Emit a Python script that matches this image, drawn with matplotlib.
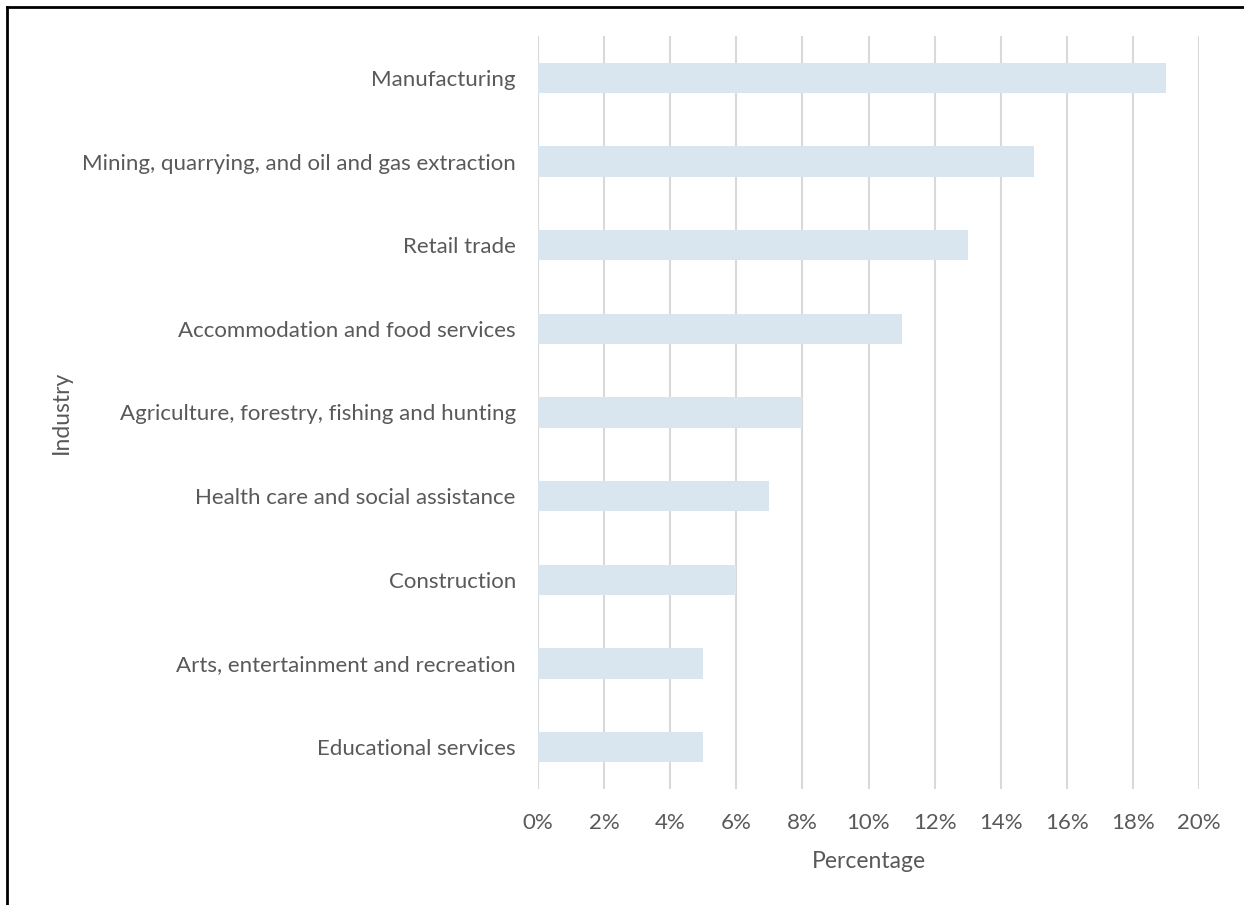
import numpy as np
import matplotlib.pyplot as plt
from matplotlib.lines import Line2D
from matplotlib.ticker import PercentFormatter

industries = [
    "Manufacturing",
    "Mining, quarrying, and oil and gas extraction",
    "Retail trade",
    "Accommodation and food services",
    "Agriculture, forestry, fishing and hunting",
    "Health care and social assistance",
    "Construction",
    "Arts, entertainment and recreation",
    "Educational services",
]
percent = [19, 15, 13, 11, 8, 7, 6, 5, 5]

text_col = "#595959"
plt.rcParams["font.family"] = ["Lato", "DejaVu Sans"]

fig = plt.figure(figsize=(12.44, 9.05), dpi=100)
ax = fig.add_axes([538 / 1244, 1 - 789 / 905, (1199 - 538) / 1244, (789 - 36) / 905])

y = np.arange(len(industries))[::-1]
ax.barh(y, percent, height=0.36, color="#D9E6F0", zorder=2)

ax.set_xlim(0, 20)
ax.set_ylim(-0.5, len(industries) - 0.5)
ax.set_xticks(np.arange(0, 21, 2))
ax.xaxis.set_major_formatter(PercentFormatter(decimals=0))
ax.set_yticks(y)
ax.set_yticklabels(industries)
ax.grid(axis="x", color="#D9D9D9", linewidth=1.5, zorder=0)
ax.tick_params(length=0, labelsize=16, colors=text_col)
ax.tick_params(axis="x", pad=17.5)
ax.tick_params(axis="y", pad=16)
for s in ax.spines.values():
    s.set_visible(False)

ax.set_xlabel("Percentage", fontsize=16.5, color=text_col, labelpad=13)
ax.set_ylabel("Industry", fontsize=16.5, color=text_col)
ax.yaxis.set_label_coords(-466 / 661, 0.5)

# outer border (cropped on right and bottom)
fig.add_artist(Line2D([7 / 1244, 7 / 1244], [0, 1 - 7 / 905], color="black", linewidth=2, transform=fig.transFigure))
fig.add_artist(Line2D([7 / 1244, 1], [1 - 7 / 905, 1 - 7 / 905], color="black", linewidth=2, transform=fig.transFigure))

fig.savefig("out.png", dpi=100)
